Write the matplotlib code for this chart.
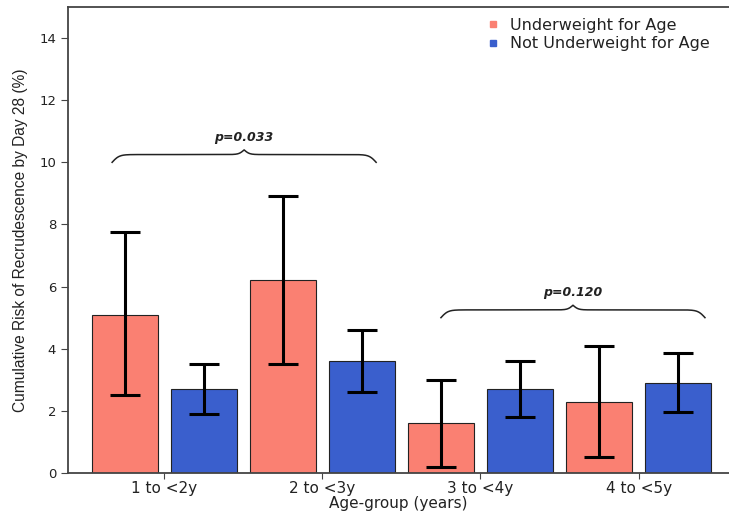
import numpy as np
import matplotlib
matplotlib.use('Agg')
import matplotlib.pyplot as plt
from matplotlib.lines import Line2D

plt.rcParams['font.family'] = ['DejaVu Sans']

# Riesgo acumulado de recrudescencia al dia 28 (%) por grupo de edad
grupos = ['1 to <2y', '2 to <3y', '3 to <4y', '4 to <5y']
bajo_peso = [5.1, 6.2, 1.6, 2.3]
bajo_peso_inf = [2.5, 3.5, 0.2, 0.5]
bajo_peso_sup = [7.75, 8.9, 3.0, 4.1]
normal = [2.7, 3.6, 2.7, 2.9]
normal_inf = [1.9, 2.6, 1.8, 1.95]
normal_sup = [3.5, 4.6, 3.6, 3.85]

# Comparaciones con llave
llaves_x = [(-0.33, 1.34), (1.75, 3.42)]
llaves_y = [10.0, 5.0]
p_valores = ['p=0.033', 'p=0.120']

rojo = '#FA8072'
azul = '#3A5FCD'
texto = '#222222'


def llave(ax, x0, x1, y, alto=0.25, pico=0.3, beta=45.0, beta_pico=60.0):
    # llave horizontal hecha con sigmoides
    n = 401
    x = np.linspace(x0, x1, n)
    xm = (x0 + x1) / 2
    mitad = x[:n // 2 + 1]
    sig = lambda t: 1 / (1 + np.exp(-t))
    yh = alto * (2 * sig(beta * (mitad - x0)) - 1) + pico * sig(beta_pico * (mitad - xm))
    yy = np.concatenate((yh, yh[-2::-1]))
    ax.plot(x, y + yy, color=texto, lw=1.1)


indice = np.arange(len(grupos))
ancho = 0.42
sep = 0.25

fig = plt.figure(figsize=(7.29, 5.14), dpi=100)
ax = fig.add_axes([0.0933, 0.0798, 0.9067, 0.9066])

ax.bar(indice - sep, bajo_peso, width=ancho, color=rojo, edgecolor=texto, linewidth=0.8,
       label='Underweight for Age')
ax.bar(indice + sep, normal, width=ancho, color=azul, edgecolor=texto, linewidth=0.8,
       label='Not Underweight for Age')

err_r = [np.array(bajo_peso) - np.array(bajo_peso_inf), np.array(bajo_peso_sup) - np.array(bajo_peso)]
err_a = [np.array(normal) - np.array(normal_inf), np.array(normal_sup) - np.array(normal)]
ax.errorbar(indice - sep, bajo_peso, yerr=err_r, fmt='none', ecolor='black', elinewidth=2.2,
            capsize=10.5, capthick=2.2)
ax.errorbar(indice + sep, normal, yerr=err_a, fmt='none', ecolor='black', elinewidth=2.2,
            capsize=10.5, capthick=2.2)

for (a, b), y, p in zip(llaves_x, llaves_y, p_valores):
    llave(ax, a, b, y)
    ax.text((a + b) / 2, y + 0.8, p, ha='center', va='center', fontsize=9,
            fontweight='bold', fontstyle='italic', color=texto)

ax.set_xlim(-0.609, 3.572)
ax.set_ylim(0, 15)
ax.set_yticks(np.arange(0, 15, 2))
ax.set_xticks(indice)
ax.set_xticklabels(grupos, fontsize=11, color=texto)
ax.tick_params(axis='y', labelsize=9.5, labelcolor=texto, length=5, color='#444444')
ax.tick_params(axis='x', length=4, color='#444444', pad=1.5)

ax.spines['right'].set_visible(False)
for s in ['left', 'top', 'bottom']:
    ax.spines[s].set_color('#444444')
    ax.spines[s].set_linewidth(1.3)

ax.set_xlabel('Age-group (years)', fontsize=11, color=texto)
ax.xaxis.set_label_coords(0.5, -0.049)
ax.set_ylabel('Cumulative Risk of Recrudescence by Day 28 (%)', fontsize=11.2, color=texto,
              family='Liberation Sans')
ax.yaxis.set_label_coords(-0.06, 0.5)

marcas = [Line2D([], [], marker='s', linestyle='none', color=rojo, markersize=5),
          Line2D([], [], marker='s', linestyle='none', color=azul, markersize=5)]
ax.legend(marcas, ['Underweight for Age', 'Not Underweight for Age'], loc='upper left',
          bbox_to_anchor=(0.667, 0.965), bbox_transform=fig.transFigure, frameon=False,
          fontsize=11.5, handlelength=0.8, handletextpad=0.7, labelspacing=0.2,
          borderaxespad=0, borderpad=0, labelcolor=texto)

fig.savefig('out.png', dpi=100)
